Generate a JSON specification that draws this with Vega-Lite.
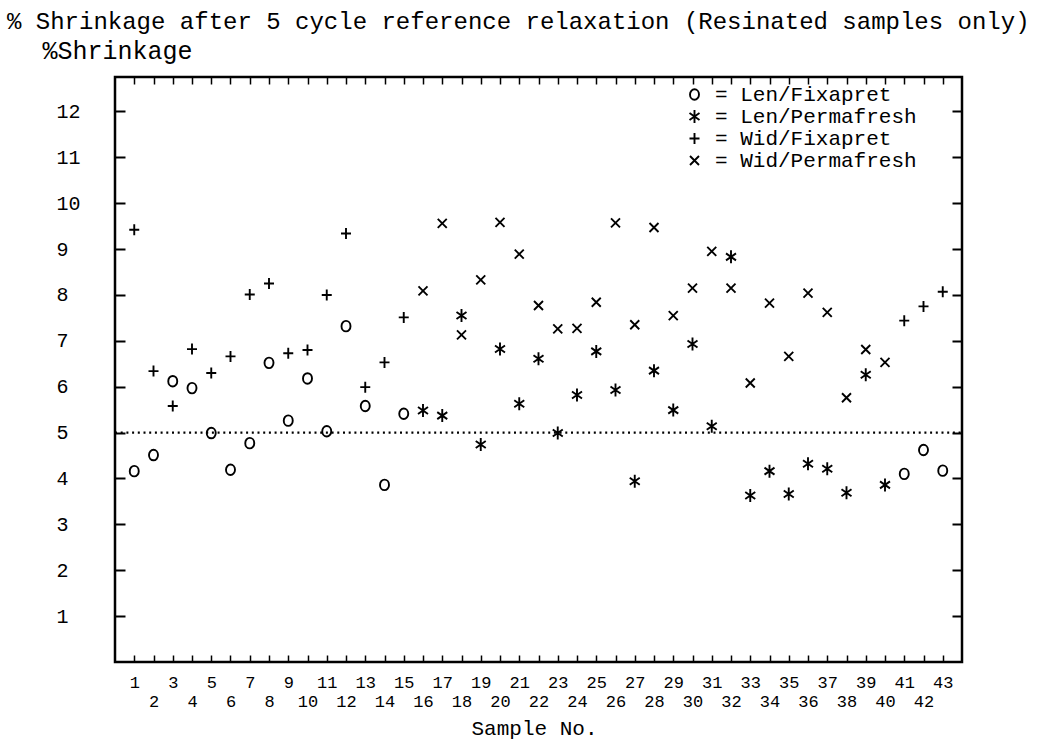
{
  "$schema": "https://vega.github.io/schema/vega-lite/v6.json",
  "width": 847,
  "height": 585,
  "autosize": {"type": "none"},
  "padding": {"left": 115, "top": 77, "right": 82, "bottom": 82},
  "background": "white",
  "title": {
    "text": "% Shrinkage after 5 cycle reference relaxation (Resinated samples only)",
    "anchor": "start",
    "frame": "group",
    "dx": -108,
    "offset": -15,
    "baseline": "alphabetic",
    "font": "Liberation Mono",
    "fontSize": 24,
    "fontWeight": "normal",
    "color": "black"
  },
  "config": {
    "view": {"stroke": "black", "strokeWidth": 2.5},
    "font": "Liberation Mono",
    "axis": {"grid": false, "domain": false, "tickColor": "black", "labelColor": "black", "titleColor": "black", "titleFontWeight": "normal"}
  },
  "datasets": {
    "ref": [{"level": 5, "from": 0, "to": 44}],
    "pts": [
      {"sample": 1, "series": "Len/Fixapret", "value": 4.16},
      {"sample": 2, "series": "Len/Fixapret", "value": 4.51},
      {"sample": 3, "series": "Len/Fixapret", "value": 6.12},
      {"sample": 4, "series": "Len/Fixapret", "value": 5.97},
      {"sample": 5, "series": "Len/Fixapret", "value": 4.99},
      {"sample": 6, "series": "Len/Fixapret", "value": 4.19},
      {"sample": 7, "series": "Len/Fixapret", "value": 4.77},
      {"sample": 8, "series": "Len/Fixapret", "value": 6.52},
      {"sample": 9, "series": "Len/Fixapret", "value": 5.26},
      {"sample": 10, "series": "Len/Fixapret", "value": 6.18},
      {"sample": 11, "series": "Len/Fixapret", "value": 5.03},
      {"sample": 12, "series": "Len/Fixapret", "value": 7.32},
      {"sample": 13, "series": "Len/Fixapret", "value": 5.58},
      {"sample": 14, "series": "Len/Fixapret", "value": 3.86},
      {"sample": 15, "series": "Len/Fixapret", "value": 5.41},
      {"sample": 41, "series": "Len/Fixapret", "value": 4.10},
      {"sample": 42, "series": "Len/Fixapret", "value": 4.62},
      {"sample": 43, "series": "Len/Fixapret", "value": 4.17},
      {"sample": 1, "series": "Wid/Fixapret", "value": 9.42},
      {"sample": 2, "series": "Wid/Fixapret", "value": 6.34},
      {"sample": 3, "series": "Wid/Fixapret", "value": 5.58},
      {"sample": 4, "series": "Wid/Fixapret", "value": 6.82},
      {"sample": 5, "series": "Wid/Fixapret", "value": 6.30},
      {"sample": 6, "series": "Wid/Fixapret", "value": 6.66},
      {"sample": 7, "series": "Wid/Fixapret", "value": 8.01},
      {"sample": 8, "series": "Wid/Fixapret", "value": 8.25},
      {"sample": 9, "series": "Wid/Fixapret", "value": 6.73},
      {"sample": 10, "series": "Wid/Fixapret", "value": 6.80},
      {"sample": 11, "series": "Wid/Fixapret", "value": 8.00},
      {"sample": 12, "series": "Wid/Fixapret", "value": 9.34},
      {"sample": 13, "series": "Wid/Fixapret", "value": 5.99},
      {"sample": 14, "series": "Wid/Fixapret", "value": 6.53},
      {"sample": 15, "series": "Wid/Fixapret", "value": 7.51},
      {"sample": 41, "series": "Wid/Fixapret", "value": 7.44},
      {"sample": 42, "series": "Wid/Fixapret", "value": 7.75},
      {"sample": 43, "series": "Wid/Fixapret", "value": 8.07},
      {"sample": 16, "series": "Len/Permafresh", "value": 5.48},
      {"sample": 17, "series": "Len/Permafresh", "value": 5.37},
      {"sample": 18, "series": "Len/Permafresh", "value": 7.55},
      {"sample": 19, "series": "Len/Permafresh", "value": 4.74},
      {"sample": 20, "series": "Len/Permafresh", "value": 6.82},
      {"sample": 21, "series": "Len/Permafresh", "value": 5.63},
      {"sample": 22, "series": "Len/Permafresh", "value": 6.61},
      {"sample": 23, "series": "Len/Permafresh", "value": 4.99},
      {"sample": 24, "series": "Len/Permafresh", "value": 5.82},
      {"sample": 25, "series": "Len/Permafresh", "value": 6.77},
      {"sample": 26, "series": "Len/Permafresh", "value": 5.93},
      {"sample": 27, "series": "Len/Permafresh", "value": 3.94},
      {"sample": 28, "series": "Len/Permafresh", "value": 6.35},
      {"sample": 29, "series": "Len/Permafresh", "value": 5.49},
      {"sample": 30, "series": "Len/Permafresh", "value": 6.93},
      {"sample": 31, "series": "Len/Permafresh", "value": 5.14},
      {"sample": 32, "series": "Len/Permafresh", "value": 8.83},
      {"sample": 33, "series": "Len/Permafresh", "value": 3.63},
      {"sample": 34, "series": "Len/Permafresh", "value": 4.16},
      {"sample": 35, "series": "Len/Permafresh", "value": 3.66},
      {"sample": 36, "series": "Len/Permafresh", "value": 4.32},
      {"sample": 37, "series": "Len/Permafresh", "value": 4.21},
      {"sample": 38, "series": "Len/Permafresh", "value": 3.69},
      {"sample": 39, "series": "Len/Permafresh", "value": 6.26},
      {"sample": 40, "series": "Len/Permafresh", "value": 3.86},
      {"sample": 16, "series": "Wid/Permafresh", "value": 8.09},
      {"sample": 17, "series": "Wid/Permafresh", "value": 9.56},
      {"sample": 18, "series": "Wid/Permafresh", "value": 7.13},
      {"sample": 19, "series": "Wid/Permafresh", "value": 8.33},
      {"sample": 20, "series": "Wid/Permafresh", "value": 9.58},
      {"sample": 21, "series": "Wid/Permafresh", "value": 8.89},
      {"sample": 22, "series": "Wid/Permafresh", "value": 7.77},
      {"sample": 23, "series": "Wid/Permafresh", "value": 7.26},
      {"sample": 24, "series": "Wid/Permafresh", "value": 7.27},
      {"sample": 25, "series": "Wid/Permafresh", "value": 7.84},
      {"sample": 26, "series": "Wid/Permafresh", "value": 9.57},
      {"sample": 27, "series": "Wid/Permafresh", "value": 7.35},
      {"sample": 28, "series": "Wid/Permafresh", "value": 9.47},
      {"sample": 29, "series": "Wid/Permafresh", "value": 7.55},
      {"sample": 30, "series": "Wid/Permafresh", "value": 8.15},
      {"sample": 31, "series": "Wid/Permafresh", "value": 8.95},
      {"sample": 32, "series": "Wid/Permafresh", "value": 8.15},
      {"sample": 33, "series": "Wid/Permafresh", "value": 6.08},
      {"sample": 34, "series": "Wid/Permafresh", "value": 7.82},
      {"sample": 35, "series": "Wid/Permafresh", "value": 6.66},
      {"sample": 36, "series": "Wid/Permafresh", "value": 8.04},
      {"sample": 37, "series": "Wid/Permafresh", "value": 7.62},
      {"sample": 38, "series": "Wid/Permafresh", "value": 5.76},
      {"sample": 39, "series": "Wid/Permafresh", "value": 6.81},
      {"sample": 40, "series": "Wid/Permafresh", "value": 6.53}
    ]
  },
  "layer": [
    {
      "data": {"name": "ref"},
      "mark": {"type": "rule", "color": "black", "strokeWidth": 2.2, "strokeDash": [2, 3.7]},
      "encoding": {
        "x": {"field": "from", "type": "quantitative", "axis": {"orient": "top", "labels": false, "title": null, "tickSize": -7, "tickWidth": 1.5, "values": [1,2,3,4,5,6,7,8,9,10,11,12,13,14,15,16,17,18,19,20,21,22,23,24,25,26,27,28,29,30,31,32,33,34,35,36,37,38,39,40,41,42,43]}},
        "x2": {"field": "to"},
        "y": {"field": "level", "type": "quantitative", "axis": {"orient": "right", "labels": false, "title": null, "tickSize": -10, "tickWidth": 2, "values": [1,2,3,4,5,6,7,8,9,10,11,12]}}
      }
    },
    {
      "data": {"name": "pts"},
      "mark": {"type": "point", "filled": false, "color": "black", "strokeWidth": 1.9, "size": 100, "opacity": 1},
      "encoding": {
        "x": {
          "field": "sample", "type": "quantitative",
          "scale": {"domain": [0, 44], "nice": false, "zero": false},
          "axis": {
            "orient": "bottom",
            "title": "Sample No.",
            "titleFont": "Liberation Mono", "titleFontSize": 21,
            "titleX": 419, "titleY": 66, "titleAlign": "center", "titleBaseline": "middle",
            "values": [1,2,3,4,5,6,7,8,9,10,11,12,13,14,15,16,17,18,19,20,21,22,23,24,25,26,27,28,29,30,31,32,33,34,35,36,37,38,39,40,41,42,43],
            "tickSize": -7, "tickWidth": 1.5,
            "labelFont": "Liberation Mono", "labelFontSize": 17,
            "labelPadding": 19, "labelBaseline": "top", "labelAlign": "center",
            "labelLineHeight": 19,
            "labelExpr": "datum.value % 2 == 0 ? ['', datum.label] : datum.label",
            "labelOverlap": false, "labelFlush": false
          }
        },
        "y": {
          "field": "value", "type": "quantitative",
          "scale": {"domain": [0, 12.75], "nice": false, "zero": false},
          "axis": {
            "orient": "left",
            "title": "%Shrinkage",
            "titleFont": "Liberation Mono", "titleFontSize": 25,
            "titleAngle": 0, "titleX": -73, "titleY": -27, "titleAlign": "left", "titleBaseline": "middle",
            "values": [1,2,3,4,5,6,7,8,9,10,11,12],
            "tickSize": -10, "tickWidth": 2,
            "labelFont": "Liberation Mono", "labelFontSize": 20,
            "labelAlign": "left", "labelBaseline": "middle", "labelPadding": 69,
            "labelOverlap": false, "labelFlush": false
          }
        },
        "shape": {
          "field": "series", "type": "nominal",
          "scale": {
            "domain": ["Len/Fixapret", "Len/Permafresh", "Wid/Fixapret", "Wid/Permafresh"],
            "range": [
              "M0.9,0A0.9,1.05 0 1,1 -0.9,0A0.9,1.05 0 1,1 0.9,0Z",
              "M0,-1.3L0,1.3M-1,-0.7L1,0.7M-1,0.7L1,-0.7",
              "M-1,0L1,0M0,-1.1L0,1.1",
              "M-0.9,-0.9L0.9,0.9M-0.9,0.9L0.9,-0.9"
            ]
          },
          "legend": {
            "title": null,
            "orient": "none",
            "legendX": 569,
            "legendY": 7,
            "padding": 0,
            "symbolSize": 100,
            "symbolStrokeWidth": 1.9,
            "symbolStrokeColor": "black",
            "symbolFillColor": "transparent",
            "labelFont": "Liberation Mono",
            "labelFontSize": 21,
            "labelColor": "black",
            "labelOffset": 10,
            "rowPadding": 0,
            "labelLimit": 400,
            "labelExpr": "'= ' + datum.label"
          }
        }
      }
    }
  ],
  "resolve": {"axis": {"x": "independent", "y": "independent"}}
}
